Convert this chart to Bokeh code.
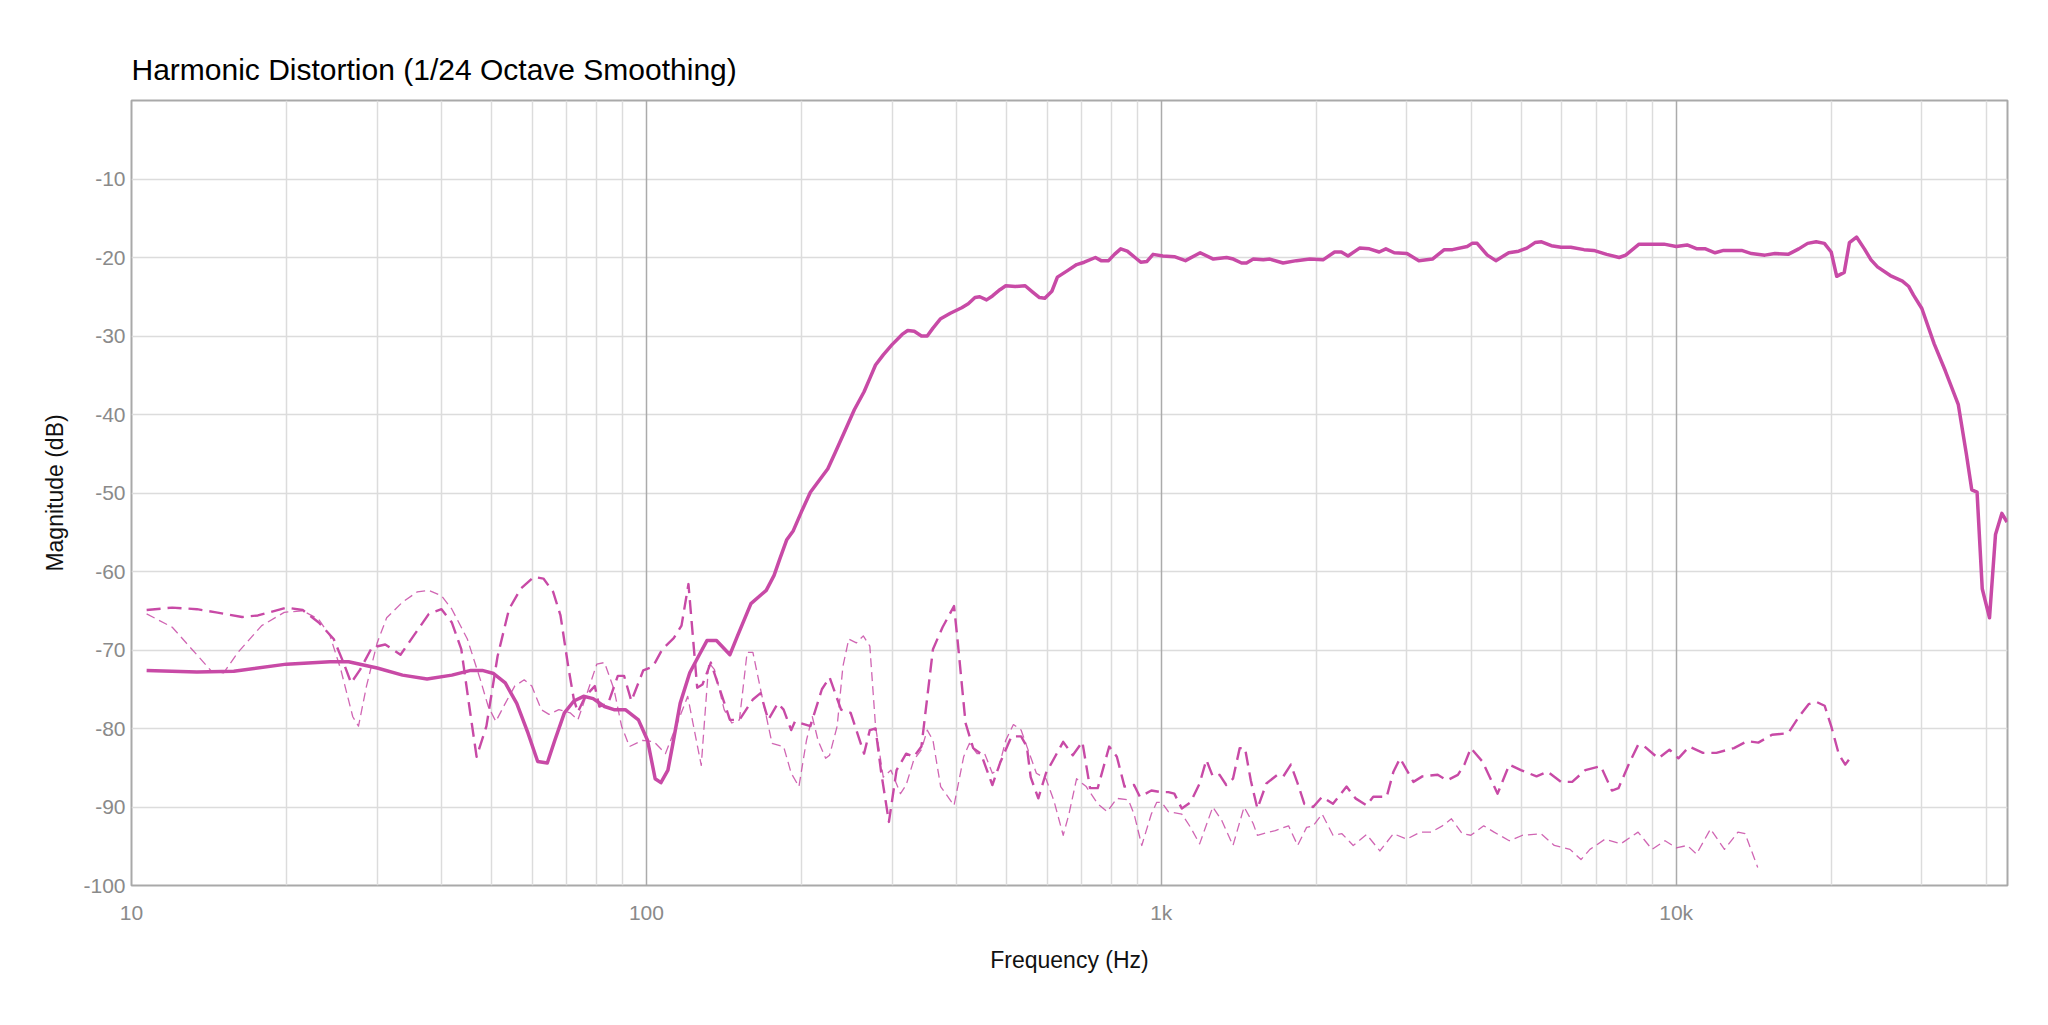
from bokeh.plotting import figure
from bokeh.models import (ColumnDataSource, Range1d, FixedTicker, Grid,
                          CustomJSTickFormatter)
from bokeh.embed import file_html
from bokeh.resources import INLINE

# ---- data -------------------------------------------------------------
# Thick solid trace (Hz, dB)
solid_freq = [10.7, 13.4, 15.8, 20, 24.3, 26.4, 30, 33.6, 37.5, 41.9, 45.6, 48.0, 50.5, 53.2,
              56.0, 58.9, 61.5, 64.2, 66.4, 69.3, 72.3, 75.5, 78.8, 82.9, 86.5, 91.0, 96.5,
              100.5, 104, 106.7, 110.1, 112.3, 116.3, 121.4, 126.7, 131.1, 136.8, 145.3, 150.3,
              159.6, 170.9, 177, 181.6, 187.2, 192.9, 200, 208.2, 215.4, 225.1, 232.8, 243.3,
              253.4, 264.7, 271.6, 278.6, 288.4, 300, 313.8, 321.8, 331.3, 342.1, 351.1, 360.2,
              372.8, 389.3, 409.6, 421.8, 434.7, 444, 457.8, 470, 486, 498.8, 520.5, 544, 562.6,
              580, 594, 613, 628.4, 656.3, 685, 708.5, 744.8, 764, 790, 811, 834, 859, 889, 912,
              938, 964, 1007, 1060, 1114, 1190, 1262, 1339, 1380, 1432, 1464, 1509, 1578, 1625,
              1724, 1830, 1942, 2061, 2171, 2237, 2305, 2427, 2536, 2650, 2730, 2834, 3000, 3164,
              3362, 3545, 3677, 3928, 4015, 4106, 4297, 4464, 4729, 4944, 5128, 5318, 5476, 5721,
              5975, 6241, 6621, 6916, 7328, 7750, 7980, 8470, 8990, 9470, 10000, 10500, 10980,
              11400, 11900, 12360, 13400, 14000, 14870, 15550, 16500, 17300, 18000, 18700, 19400,
              20000, 20500, 21200, 21700, 22400, 23200, 23900, 24600, 26050, 27500, 28300, 28900,
              30000, 31700, 33300, 35300, 36600, 37500, 38400, 39300, 40600, 41700, 42900, 43900]
solid_db = [-72.6, -72.8, -72.7, -71.8, -71.5, -71.5, -72.3, -73.2, -73.7, -73.2, -72.6, -72.6,
            -73.0, -74.2, -76.8, -80.6, -84.2, -84.4, -81.5, -78.0, -76.5, -75.9, -76.2, -77.2,
            -77.6, -77.6, -78.9, -81.5, -86.4, -86.9, -85.3, -82.3, -76.8, -72.9, -70.6, -68.8,
            -68.8, -70.6, -68.2, -64.1, -62.4, -60.5, -58.4, -56.0, -54.8, -52.4, -49.9, -48.6,
            -46.9, -44.8, -42.0, -39.4, -37.1, -35.4, -33.7, -32.4, -31.1, -29.8, -29.3, -29.4,
            -30.0, -30.0, -29.0, -27.8, -27.1, -26.4, -25.9, -25.1, -25.0, -25.4, -24.9, -24.1,
            -23.6, -23.7, -23.6, -24.4, -25.1, -25.2, -24.3, -22.5, -21.7, -20.9, -20.6, -20.0,
            -20.4, -20.4, -19.6, -18.9, -19.2, -20.0, -20.6, -20.5, -19.6, -19.8, -19.9, -20.4,
            -19.4, -20.2, -20.0, -20.2, -20.7, -20.7, -20.2, -20.3, -20.2, -20.7, -20.4, -20.2,
            -20.3, -19.3, -19.3, -19.8, -18.8, -18.9, -19.3, -18.9, -19.4, -19.5, -20.4, -20.2,
            -19.0, -19.0, -18.6, -18.2, -18.2, -19.7, -20.4, -19.4, -19.2, -18.8, -18.1, -18.0,
            -18.5, -18.7, -18.7, -19.0, -19.1, -19.6, -20.0, -19.7, -18.3, -18.3, -18.3, -18.6,
            -18.4, -18.9, -18.9, -19.4, -19.1, -19.1, -19.5, -19.7, -19.5, -19.6, -18.9, -18.2,
            -18.0, -18.2, -19.3, -22.4, -21.9, -18.1, -17.4, -18.9, -20.3, -21.2, -22.3, -23.0,
            -23.7, -24.8, -26.5, -31.0, -34.4, -38.7, -45.0, -49.6, -49.9, -62.2, -65.9, -55.3,
            -52.6, -53.7]

# Heavier dashed trace (Hz, dB)
dash_freq = [10.7, 12.0, 13.4, 14.6, 16.4, 17.6, 20, 21.5, 23.1, 24.7, 25.8, 26.7, 27.8, 29.3,
             31.1, 33.3, 35.3, 37.8, 40, 41.9, 43.7, 45.3, 46.8, 48.9, 51.4, 54.1, 57.0, 60.4,
             63.1, 65.9, 68.1, 70.5, 72.3, 73.6, 76.1, 79.4, 81, 84.3, 88.0, 90.5, 93.5, 98.6,
             103, 107.4, 113, 117, 120.7, 125.5, 128.5, 133.4, 145.3, 151.6, 161, 166.6, 172.4,
             180, 184.7, 191.1, 194.4, 208.2, 219.2, 226.9, 238.8, 249.3, 264.7, 271.6, 278.6,
             285.9, 295.8, 306.1, 319.5, 330.6, 342.1, 360.2, 376, 395.8, 402.6, 416.7, 431.2,
             446.3, 469.8, 486.2, 511.8, 534.2, 548.1, 557.6, 577, 597, 644.9, 673.1, 702.6,
             727.1, 752.5, 792.2, 819.8, 848.4, 885.5, 908.6, 956.5, 998.4, 1032, 1060, 1096,
             1140, 1187, 1223, 1259, 1298, 1337, 1378, 1420, 1454, 1492, 1537, 1600, 1681, 1726,
             1785, 1840, 1896, 1972, 2053, 2155, 2290, 2383, 2504, 2580, 2740, 2824, 2909, 3088,
             3214, 3442, 3590, 3767, 3878, 3992, 4203, 4499, 4741, 4993, 5355, 5628, 5976, 6281,
             6660, 7136, 7502, 7726, 8109, 8433, 8683, 9232, 9703, 10100, 10600, 11270, 11970,
             12950, 13740, 14440, 15350, 16500, 17350, 18080, 18700, 19420, 20000, 20700, 21300,
             21700]
dash_db = [-64.9, -64.6, -64.8, -65.2, -65.8, -65.6, -64.6, -64.9, -66.5, -68.6, -71.6, -74.2,
           -72.5, -69.7, -69.3, -70.6, -68.2, -65.4, -64.8, -66.5, -69.9, -77.2, -83.6, -79.7,
           -70.8, -64.8, -62.2, -60.7, -60.9, -62.6, -65.6, -72.1, -76.3, -77.9, -75.9, -74.6,
           -77.2, -76.8, -73.3, -73.3, -76.5, -72.6, -72.1, -69.9, -68.5, -66.9, -61.6, -74.8,
           -74.4, -71.6, -78.9, -78.9, -76.3, -75.5, -78.9, -76.8, -77.6, -80.2, -79.1, -79.7,
           -75.0, -73.5, -77.6, -78.0, -83.2, -80.2, -80.0, -85.7, -91.9, -85.3, -83.2, -83.6,
           -82.3, -69.9, -67.1, -64.4, -69.1, -79.3, -82.5, -83.2, -87.2, -84.4, -81.0, -81.0,
           -82.3, -86.2, -88.9, -85.7, -81.7, -83.4, -81.7, -87.6, -87.6, -82.3, -83.6, -87.4,
           -87.2, -88.7, -87.9, -88.1, -88.1, -88.3, -90.2, -89.4, -87.0, -84.0, -86.1, -85.9,
           -87.2, -86.4, -82.5, -82.5, -86.6, -90.2, -87.0, -85.9, -86.1, -84.6, -87.0, -89.6,
           -90.0, -88.7, -89.6, -87.4, -88.9, -89.8, -88.7, -88.7, -85.5, -83.8, -86.8, -86.1,
           -85.9, -86.6, -85.9, -84.6, -82.5, -84.2, -88.3, -84.6, -85.3, -86.1, -85.5, -86.8,
           -86.8, -85.3, -84.8, -87.9, -87.6, -84.4, -82.1, -82.3, -83.8, -82.7, -83.8, -82.3,
           -83.1, -83.1, -82.5, -81.6, -81.8, -80.8, -80.6, -78.4, -76.9, -76.6, -77.1, -79.7,
           -83.3, -84.6, -83.9]

# Light dashed trace (Hz, dB)
thin_freq = [10.7, 12.0, 13.1, 14.3, 15.1, 16.1, 17.9, 19.8, 21.5, 23.1, 24.3, 25.5, 26.9, 27.6,
             28.6, 30, 31.3, 33.6, 35.9, 37.8, 40, 41.9, 44.9, 47.6, 49.3, 51.0, 53.2, 55.5, 57.9,
             59.9, 62.5, 64.7, 67.6, 71.1, 73.6, 76.7, 80.1, 82.9, 86.5, 89.5, 92.7, 98.4, 103.5,
             108.9, 120.3, 127.8, 132.2, 135.6, 141.6, 146.5, 151.6, 156.9, 161, 166.6, 175.4,
             184.7, 191.1, 197.8, 204.6, 210, 215.4, 222.9, 226.9, 234.7, 240.8, 247.2, 255.7,
             263.8, 271.6, 278.6, 288.4, 298.4, 311.5, 319.5, 330.6, 342.1, 351.1, 360.2, 372.8,
             395.8, 413.2, 423.9, 438.7, 453.9, 469.8, 482, 498.8, 516.2, 534.2, 572, 597, 618,
             644.9, 661.7, 684.7, 714.8, 752.5, 785.5, 819.8, 863, 885.5, 916.3, 956.5, 980, 1002,
             1032, 1096, 1140, 1187, 1259, 1310, 1378, 1448, 1508, 1537, 1665, 1767, 1840, 1915,
             1972, 2053, 2155, 2243, 2359, 2504, 2658, 2824, 2996, 3182, 3344, 3515, 3660, 3840,
             3992, 4229, 4429, 4741, 5030, 5460, 5797, 6220, 6533, 6800, 7275, 7800, 8433, 8977,
             9513, 10000, 10510, 10950, 11660, 12410, 13180, 13610, 14400]
thin_db = [-65.4, -67.1, -69.9, -72.7, -72.9, -70.3, -66.9, -65.2, -65.0, -66.1, -68.2, -72.5,
           -78.5, -79.7, -74.6, -69.1, -65.9, -63.9, -62.6, -62.4, -63.1, -64.8, -68.6, -73.8,
           -77.2, -79.1, -76.8, -74.6, -73.8, -74.6, -77.6, -78.2, -77.6, -78.0, -78.9, -75.5,
           -71.8, -71.6, -75.0, -79.7, -82.3, -81.5, -81.7, -83.2, -75.9, -84.7, -71.6, -72.5,
           -77.6, -79.3, -78.9, -70.3, -70.3, -75.0, -81.9, -82.3, -85.7, -87.4, -81.5, -78.5,
           -81.5, -83.8, -83.4, -79.7, -72.1, -68.6, -69.1, -68.2, -69.5, -79.7, -86.2, -85.3,
           -88.3, -87.2, -84.0, -82.7, -80.2, -81.5, -87.4, -89.8, -83.6, -81.9, -83.2, -83.2,
           -85.7, -85.3, -81.5, -79.5, -80.2, -85.7, -86.4, -89.1, -93.6, -90.9, -86.4, -87.4,
           -89.6, -90.6, -88.9, -89.1, -90.9, -94.9, -90.9, -89.4, -89.4, -90.6, -90.9, -92.6,
           -94.7, -90.0, -91.7, -94.9, -90.0, -92.1, -93.6, -93.0, -92.4, -94.9, -92.6, -92.4,
           -90.9, -93.6, -93.4, -94.9, -93.5, -95.6, -93.4, -94.1, -93.2, -93.2, -92.4, -91.5,
           -93.4, -93.6, -92.4, -93.2, -94.3, -93.6, -93.4, -94.9, -95.4, -96.7, -95.4, -94.1,
           -94.7, -93.2, -95.4, -94.3, -95.2, -94.9, -96.0, -92.8, -95.4, -93.2, -93.4, -97.7]

x_ticks = [10, 100, 1000, 10000]
y_ticks = [-100, -90, -80, -70, -60, -50, -40, -30, -20, -10]
minor_x = [20, 30, 40, 50, 60, 70, 80, 90, 200, 300, 400, 500, 600, 700, 800, 900,
           2000, 3000, 4000, 5000, 6000, 7000, 8000, 9000, 20000, 30000, 40000]

# ---- styling ----------------------------------------------------------
FONT = "Liberation Sans"
TRACE = "#c84aa6"
FRAME_W, FRAME_H = 1876, 785

p = figure(frame_width=FRAME_W, frame_height=FRAME_H,
           min_border_left=131, min_border_right=41,
           min_border_top=100, min_border_bottom=140,
           x_axis_type="log", x_range=Range1d(10, 44000), y_range=Range1d(-100, 0),
           output_backend="svg", toolbar_location=None, background_fill_color="white",
           border_fill_color="white",
           title="Harmonic Distortion (1/24 Octave Smoothing)")

p.title.text_font = FONT
p.title.text_font_size = "30px"
p.title.text_font_style = "normal"
p.title.text_color = "#000000"
p.title.standoff = 29

p.outline_line_color = "#a9a9a9"
p.outline_line_width = 2

# axes
for ax in (p.xaxis[0], p.yaxis[0]):
    ax.axis_line_color = None
    ax.major_tick_line_color = None
    ax.minor_tick_line_color = None
    ax.major_label_text_font = FONT
    ax.major_label_text_font_size = "21px"
    ax.major_label_text_color = "#8a8a8a"
    ax.axis_label_text_font = FONT
    ax.axis_label_text_font_size = "23px"
    ax.axis_label_text_font_style = "normal"
    ax.axis_label_text_color = "#111111"

p.xaxis.ticker = FixedTicker(ticks=x_ticks)
p.xaxis.formatter = CustomJSTickFormatter(
    code="return tick >= 1000 ? (Math.round(tick / 1000)) + 'k' : String(Math.round(tick));")
p.xaxis.axis_label = "Frequency (Hz)"
p.xaxis.major_label_standoff = 9
p.xaxis.axis_label_standoff = 20

p.yaxis.ticker = FixedTicker(ticks=y_ticks)
p.yaxis.formatter = CustomJSTickFormatter(code="return String(Math.round(tick));")
p.yaxis.axis_label = "Magnitude (dB)"
p.yaxis.major_label_standoff = 0
p.yaxis.axis_label_standoff = 12

# grid
p.xgrid.ticker = FixedTicker(ticks=minor_x)
p.xgrid.grid_line_color = "#dcdcdc"
p.xgrid.grid_line_width = 1.5
p.add_layout(Grid(dimension=0, ticker=FixedTicker(ticks=x_ticks),
                  grid_line_color="#ababab", grid_line_width=1.5))
p.ygrid.ticker = FixedTicker(ticks=y_ticks[1:])
p.ygrid.grid_line_color = "#dcdcdc"
p.ygrid.grid_line_width = 1.5

# traces
p.line("f", "db", source=ColumnDataSource(dict(f=thin_freq, db=thin_db)),
       line_color=TRACE, line_width=1.3, line_alpha=0.85, line_dash="9 5",
       line_join="round")
p.line("f", "db", source=ColumnDataSource(dict(f=dash_freq, db=dash_db)),
       line_color=TRACE, line_width=2.4, line_dash="14 7", line_join="round")
p.line("f", "db", source=ColumnDataSource(dict(f=solid_freq, db=solid_db)),
       line_color=TRACE, line_width=3.5, line_join="round")

open("out.html", "w").write(file_html(p, INLINE))
